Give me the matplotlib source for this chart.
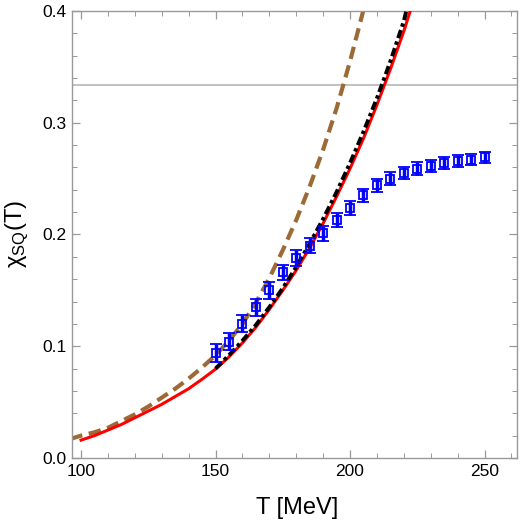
import numpy as np
import matplotlib
matplotlib.use("Agg")
import matplotlib.pyplot as plt

plt.rcParams["font.family"] = ["Liberation Sans", "DejaVu Sans"]
plt.rcParams["mathtext.fontset"] = "custom"
plt.rcParams["mathtext.rm"] = "Liberation Sans"
plt.rcParams["mathtext.it"] = "Liberation Sans:italic"

# lattice points (blue)
T_lat = [150, 155, 160, 165, 170, 175, 180, 185, 190, 195, 200,
         205, 210, 215, 220, 225, 230, 235, 240, 245, 250]
chi_lat = [0.094, 0.104, 0.120, 0.135, 0.150, 0.166, 0.179, 0.190, 0.201, 0.213, 0.224,
           0.235, 0.244, 0.250, 0.255, 0.259, 0.261, 0.264, 0.266, 0.267, 0.269]
err_lat = [0.0078, 0.0078, 0.0077, 0.0076, 0.0075, 0.007, 0.0068, 0.0066, 0.0065, 0.0064, 0.0062,
           0.006, 0.006, 0.0058, 0.0056, 0.0055, 0.0054, 0.0053, 0.0052, 0.0051, 0.005]

# red solid curve
T_red = [100, 105, 110, 115, 120, 125, 130, 135, 140, 145, 150, 155, 160, 165, 170,
         175, 180, 185, 190, 195, 200, 205, 210, 215, 220, 222.5]
chi_red = [0.016, 0.020, 0.025, 0.030, 0.036, 0.042, 0.048, 0.055, 0.062, 0.0705, 0.0795,
           0.0905, 0.103, 0.117, 0.133, 0.150, 0.168, 0.188, 0.210, 0.234, 0.259,
           0.286, 0.316, 0.348, 0.382, 0.401]

# black dash-dot curve
T_blk = [150, 155, 160, 165, 170, 175, 180, 185, 190, 195, 200, 205, 210, 215, 220, 221]
chi_blk = [0.080, 0.092, 0.105, 0.119, 0.135, 0.152, 0.171, 0.192, 0.214, 0.238, 0.264,
           0.292, 0.322, 0.355, 0.391, 0.401]

# brown dashed curve
T_brn = [96, 100, 105, 110, 115, 120, 125, 130, 135, 140, 145, 150, 155, 160, 165,
         170, 175, 180, 185, 190, 195, 200, 205]
chi_brn = [0.017, 0.020, 0.023, 0.027, 0.033, 0.039, 0.046, 0.054, 0.062, 0.071, 0.081,
           0.092, 0.105, 0.120, 0.139, 0.161, 0.186, 0.213, 0.243, 0.276, 0.313, 0.355, 0.401]

fig = plt.figure(figsize=(5.21, 5.28), dpi=100)
ax = fig.add_axes([0.138, 0.1326, 0.854, 0.8466])

ax.axhline(1/3, color="#b0b0b0", lw=1.1, zorder=1)
ax.plot(T_brn, chi_brn, color="#9c6a35", lw=3.0, dashes=(3.0, 1.6), zorder=2)
ax.plot(T_red, chi_red, color="red", lw=2.2, zorder=3)
ax.plot(T_blk, chi_blk, color="black", lw=2.8, dashes=(2.2, 0.9, 0.9, 0.9), zorder=4)
ax.errorbar(T_lat, chi_lat, yerr=err_lat, fmt="s", ms=5.5, mfc="none", mec="blue", mew=1.3,
            ecolor="blue", elinewidth=2.5, capsize=4, capthick=2.8, zorder=5)

ax.set_xlim(96.6, 262)
ax.set_ylim(0, 0.4)
ax.set_xticks([100, 150, 200, 250])
ax.set_xticks(np.arange(100, 261, 10), minor=True)
ax.set_yticks([0.0, 0.1, 0.2, 0.3, 0.4])
ax.set_yticks(np.arange(0, 0.401, 0.02), minor=True)
ax.yaxis.set_major_formatter(matplotlib.ticker.FormatStrFormatter("%.1f"))

for s in ax.spines.values():
    s.set_color("#999999")
    s.set_linewidth(1.0)
ax.tick_params(which="both", direction="in", top=True, right=True, color="#999999",
               labelsize=12.5, labelcolor="black")
ax.tick_params(which="major", length=6, width=0.9, pad=4)
ax.tick_params(which="minor", length=3.5, width=0.7)

ax.set_xlabel("T [MeV]", fontsize=17)
ax.set_ylabel(r"χ$_{\mathrm{SQ}}$(T)", fontsize=17)
ax.xaxis.set_label_coords(0.506, -0.087)
ax.yaxis.set_label_coords(-0.092, 0.5)

fig.savefig("out.png", dpi=100)
